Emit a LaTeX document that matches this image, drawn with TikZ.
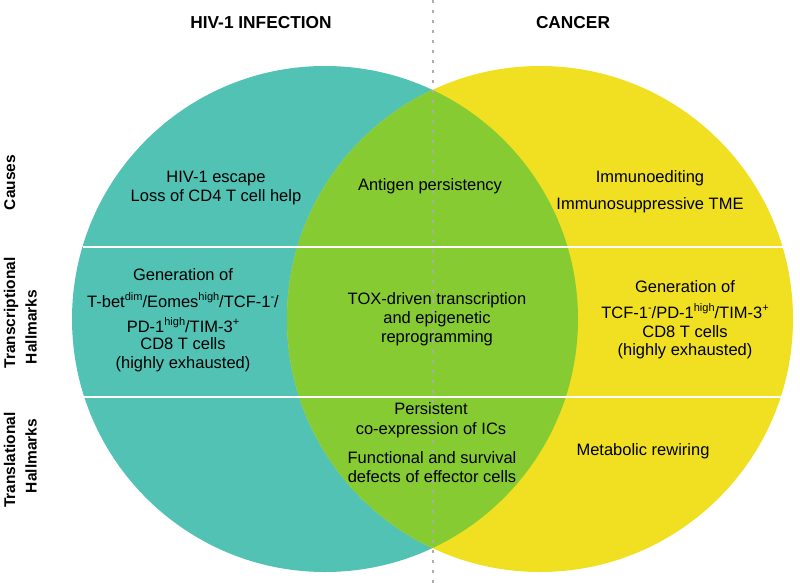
\documentclass[tikz,border=0pt]{standalone}
\usepackage{fontspec}
\setmainfont{Liberation Sans}
\definecolor{hivteal}{RGB}{82,194,181}
\definecolor{canyellow}{RGB}{240,224,33}
\definecolor{bothgreen}{RGB}{134,203,49}
\definecolor{dashgray}{RGB}{172,172,172}
\newcommand\sups[1]{\raisebox{6.5pt}{\fontsize{11}{11}\selectfont #1}}
\begin{document}
\begin{tikzpicture}[x=1pt,y=-1pt,
  txt/.style={font=\fontsize{16.5}{19}\selectfont, anchor=base, inner sep=0pt, text=black},
  ttl/.style={font=\fontsize{17.3}{20}\selectfont\bfseries, anchor=base, inner sep=0pt},
  side/.style={font=\fontsize{15.5}{18}\selectfont\bfseries, anchor=base, inner sep=0pt, rotate=90},
  sep/.style={draw=white, line width=1.6pt},
  divider/.style={draw=dashgray, line width=2pt, dash pattern=on 3pt off 7pt}]
\useasboundingbox (0,0) rectangle (800,583);
% circles
\coordinate (cl) at (325,319);
\coordinate (cr) at (540,319);
\fill[hivteal] (cl) circle[radius=253];
\fill[canyellow] (cr) circle[radius=253];
\begin{scope}
  \clip (cl) circle[radius=253];
  \fill[bothgreen] (cr) circle[radius=253];
\end{scope}
% row separators
\coordinate (s1l) at (82.5,247);
\coordinate (s1r) at (782.5,247);
\coordinate (s2l) at (84.3,397);
\coordinate (s2r) at (780.7,397);
\draw[sep] (s1l) -- (s1r);
\draw[sep] (s2l) -- (s2r);
% dashed divider
\coordinate (dtop) at (433,0);
\coordinate (dbot) at (433,583);
\draw[divider] (dtop) -- (dbot);
% titles
\node[ttl] (thiv) at (261,29) {HIV-1 INFECTION};
\node[ttl] (tcan) at (573,29) {CANCER};
% side labels
\node[side] (lcause) at (15,182.5) {Causes};
\node[side] (ltra1) at (15,313) {Transcriptional};
\node[side] (ltra2) at (36.7,327) {Hallmarks};
\node[side] (ltrl1) at (15,460) {Translational};
\node[side] (ltrl2) at (36.7,456) {Hallmarks};
% causes row
\node[txt] (c1a) at (216,182) {HIV-1 escape};
\node[txt] (c1b) at (216,201) {Loss of CD4 T cell help};
\node[txt] (c2) at (430,190) {Antigen persistency};
\node[txt] (c3a) at (650,182) {Immunoediting};
\node[txt] (c3b) at (650,209) {Immunosuppressive TME};
% transcriptional row
\node[txt] (t1a) at (183,280) {Generation of};
\node[txt] (t1b) at (183,307) {T-bet\sups{dim}/Eomes\sups{high}/TCF-1\sups{-}/};
\node[txt] (t1c) at (183,332) {PD-1\sups{high}/TIM-3\sups{+}};
\node[txt] (t1d) at (183,349) {CD8 T cells};
\node[txt] (t1e) at (183,368) {(highly exhausted)};
\node[txt] (t2a) at (437,304) {TOX-driven transcription};
\node[txt] (t2b) at (437,323) {and epigenetic};
\node[txt] (t2c) at (437,342) {reprogramming};
\node[txt] (t3a) at (685,292) {Generation of};
\node[txt] (t3b) at (685,318) {TCF-1\sups{-}/PD-1\sups{high}/TIM-3\sups{+}};
\node[txt] (t3c) at (685,337) {CD8 T cells};
\node[txt] (t3d) at (685,355) {(highly exhausted)};
% translational row
\node[txt] (r2a) at (431,414) {Persistent};
\node[txt] (r2b) at (431,434) {co-expression of ICs};
\node[txt] (r2c) at (432,463) {Functional and survival};
\node[txt] (r2d) at (432,482) {defects of effector cells};
\node[txt] (r3) at (643,455) {Metabolic rewiring};
\end{tikzpicture}
\end{document}
